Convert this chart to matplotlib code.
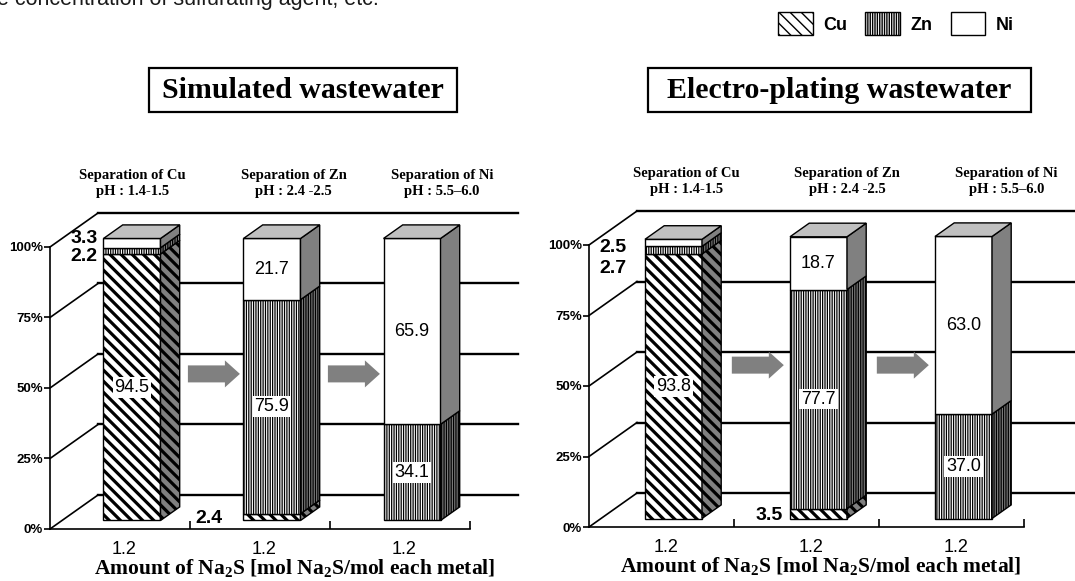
import numpy as np
import matplotlib.pyplot as plt
from matplotlib.patches import Polygon, Rectangle, Patch, FancyArrow

plt.rcParams['font.family'] = ['Liberation Sans', 'DejaVu Sans']
plt.rcParams['mathtext.fontset'] = 'custom'
plt.rcParams['mathtext.rm'] = 'Liberation Serif:bold'
plt.rcParams['mathtext.it'] = 'Liberation Serif:bold'
plt.rcParams['mathtext.bf'] = 'Liberation Serif:bold'

metals = ['Cu', 'Zn', 'Ni']
steps = ['Separation of Cu', 'Separation of Zn', 'Separation of Ni']
ph_ranges = ['pH : 1.4-1.5', 'pH : 2.4 -2.5', 'pH : 5.5\u20136.0']
na2s_amount = ['1.2', '1.2', '1.2']
pct_ticks = [0, 25, 50, 75, 100]

# metal share of each precipitate [%], one entry per separation step
sim_cu = [94.5, 2.4, 0.0]
sim_zn = [2.2, 75.9, 34.1]
sim_ni = [3.3, 21.7, 65.9]

ep_cu = [93.8, 3.5, 0.0]
ep_zn = [2.7, 77.7, 37.0]
ep_ni = [2.5, 18.7, 63.0]

HATCH = {'Cu': '\\\\\\', 'Zn': '|||||||', 'Ni': ''}
HATCH_LW = {'Cu': 2.3, 'Zn': 0.9, 'Ni': 1.0}
SIDE = '#808080'
TOP = '#c0c0c0'
SERIF = ['Liberation Serif', 'DejaVu Serif']
NARROW = ['Liberation Sans Narrow', 'Liberation Sans', 'DejaVu Sans']

W, H = 1075, 581
fig = plt.figure(figsize=(W / 100, H / 100), dpi=100)


def hatched(patch, metal):
    if hasattr(patch, 'set_hatch_linewidth'):
        patch.set_hatch_linewidth(HATCH_LW[metal])
    return patch


def make_axes(x_front, y_zero, sx, sy, xlim, ylim):
    # x_front: pixel of the front value axis (x = -0.5), y_zero: pixel row of 0 %
    left = x_front + (xlim[0] + 0.5) * sx
    right = x_front + (xlim[1] + 0.5) * sx
    bottom = y_zero - ylim[0] * sy
    top = y_zero - ylim[1] * sy
    ax = fig.add_axes([left / W, 1 - bottom / H, (right - left) / W, (bottom - top) / H])
    ax.set_xlim(*xlim)
    ax.set_ylim(*ylim)
    ax.patch.set_alpha(0)
    return ax


def draw_panel(ax, cu, zn, ni, sx, sy, wall_end, arrow_y, out_offsets, head_x, label_x):
    dx, dy = 48 / sx, 34 / sy
    f0, f1 = 0.25, 0.65
    w = 57 / sx
    ddx, ddy = (f1 - f0) * dx, (f1 - f0) * dy

    # side wall diagonals and back wall grid
    for lvl in pct_ticks:
        ax.plot([-0.5, -0.5 + dx], [lvl, lvl + dy], color='black', lw=1.2, zorder=1)
        ax.plot([-0.5 + dx, wall_end], [lvl + dy, lvl + dy], color='black', lw=1.7, zorder=1)

    # axes
    for s in ['top', 'right']:
        ax.spines[s].set_visible(False)
    ax.spines['left'].set_position(('data', -0.5))
    ax.spines['left'].set_bounds(0, 100)
    ax.spines['bottom'].set_position(('data', 0))
    ax.spines['bottom'].set_bounds(-0.5, 2.5)
    for s in ['left', 'bottom']:
        ax.spines[s].set_linewidth(1.2)
    ax.set_yticks(pct_ticks)
    ax.set_yticklabels([f'{t}%' for t in pct_ticks], family=NARROW, weight='bold', fontsize=9.5)
    ax.tick_params(axis='y', length=4, width=1.2, pad=1)
    ax.set_xticks(np.arange(3) + 0.03)
    ax.set_xticklabels(na2s_amount, fontsize=13)
    ax.set_xticks([0.5, 1.5, 2.5], minor=True)
    ax.tick_params(axis='x', which='major', length=0, pad=9)
    ax.tick_params(axis='x', which='minor', direction='in', length=6, width=1.2)

    xs = np.arange(3) + f0 * dx
    base = np.full(3, f0 * dy)
    shares = {'Cu': np.array(cu), 'Zn': np.array(zn), 'Ni': np.array(ni)}
    for metal in metals:
        h = shares[metal]
        keep = h > 0
        bars = ax.bar(xs[keep], h[keep], w, bottom=base[keep], facecolor='white',
                      edgecolor='black', hatch=HATCH[metal], lw=1, zorder=3)
        for b in bars:
            hatched(b, metal)
        for i in np.flatnonzero(keep):
            xr = xs[i] + w / 2
            y0, y1 = base[i], base[i] + h[i]
            side = Polygon([(xr, y0), (xr + ddx, y0 + ddy), (xr + ddx, y1 + ddy), (xr, y1)],
                           closed=True, facecolor=SIDE, edgecolor='black',
                           hatch=HATCH[metal], lw=1, zorder=3)
            ax.add_patch(hatched(side, metal))
            yc = (y0 + y1) / 2
            if h[i] >= 10:
                ax.text(xs[i], yc, f'{h[i]:.1f}', ha='center', va='center', fontsize=13,
                        zorder=5, bbox=dict(boxstyle='square,pad=0.1', fc='white', ec='none'))
            else:
                ox, oy = out_offsets[(i, metal)]
                ax.annotate(f'{h[i]:.1f}', xy=(xs[i] - w / 2, yc), xytext=(ox, oy),
                            textcoords='offset pixels', ha='right', va='center',
                            fontsize=14, fontweight='bold', zorder=5)
        base = base + np.where(keep, h, 0)

    for i in range(3):
        xl, xr, yt = xs[i] - w / 2, xs[i] + w / 2, base[i]
        ax.add_patch(Polygon([(xl, yt), (xl + ddx, yt + ddy), (xr + ddx, yt + ddy), (xr, yt)],
                             closed=True, facecolor=TOP, edgecolor='black', lw=1, zorder=3))

    for i in range(2):
        ax.add_patch(FancyArrow(i + 0.485, arrow_y, 52 / sx, 0, width=17 / sy,
                                head_width=27 / sy, head_length=15 / sx,
                                length_includes_head=True, color=SIDE, lw=0, zorder=2))

    for i in range(3):
        ax.text(head_x[i], 100 + dy + 10.5, f'{steps[i]}\n{ph_ranges[i]}', ha='center',
                va='center', family=SERIF, weight='bold', fontsize=10.5, linespacing=1.25)

    ax.text(label_x, -13.8, r'Amount of Na$_2$S [mol Na$_2$S/mol each metal]', ha='center',
            va='center', family=SERIF, weight='bold', fontsize=15.5)


# simulated wastewater
sx1, sy1 = 140, 2.82
ax1 = make_axes(50, 529, sx1, sy1, (-0.75, 3.0), (-20, 125))
draw_panel(ax1, sim_cu, sim_zn, sim_ni, sx1, sy1, 2.5 + 48 / sx1, 55,
           {(0, 'Zn'): (-6, -6), (0, 'Ni'): (-6, 5), (1, 'Cu'): (-21, -1)},
           [0.09, 1.24, 2.3], 1.25)

# electro-plating wastewater
sx2, sy2 = 145, 2.82
ax2 = make_axes(589, 527, sx2, sy2, (-0.75, 2.95), (-20, 125))
draw_panel(ax2, ep_cu, ep_zn, ep_ni, sx2, sy2, 2.95, 57.4,
           {(0, 'Zn'): (-19, -18), (0, 'Ni'): (-19, -5), (1, 'Cu'): (-7, -2)},
           [0.17, 1.28, 2.38], 1.1)

# panel titles
for (x0, x1), title in [((149, 457), 'Simulated wastewater'),
                        ((648, 1031), 'Electro-plating wastewater')]:
    fig.add_artist(Rectangle((x0 / W, 1 - 112 / H), (x1 - x0) / W, 44 / H, fill=False,
                             lw=1.6, ec='black', transform=fig.transFigure))
    fig.text((x0 + x1) / 2 / W, 1 - 91 / H, title, ha='center', va='center',
             family=SERIF, weight='bold', fontsize=21.5)

fig.text(-3 / W, 1 - 5.5 / H, 'e concentration of sulfurating agent, etc.', va='baseline',
         fontsize=15.5, color='#1a1a1a')

handles = []
for metal in metals:
    p = Patch(facecolor='white', edgecolor='black', hatch=HATCH[metal], lw=1)
    handles.append(hatched(p, metal))
fig.legend(handles, metals, ncol=3, loc='upper right', bbox_to_anchor=(1030 / W, 1 + 4 / H),
           frameon=False, handlelength=1.9, handleheight=1.6, handletextpad=0.6,
           columnspacing=1.0, prop=dict(family=NARROW, weight='bold', size=13))

fig.savefig('out.png', dpi=100)
